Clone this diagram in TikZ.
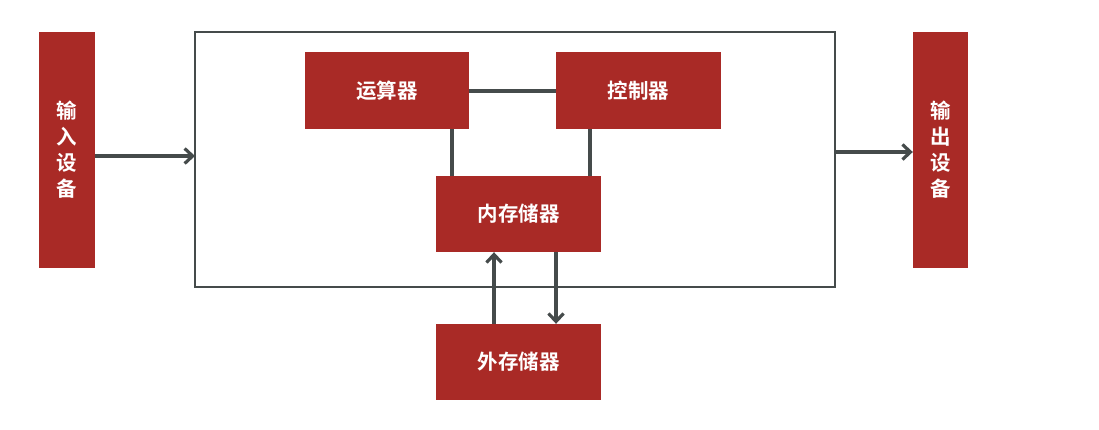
\documentclass[tikz,border=0pt]{standalone}
\usepackage{fontspec}
\newfontfamily\cjk{Noto Sans CJK SC}[BoldFont={Noto Sans CJK SC Bold}]
\usetikzlibrary{arrows.meta}
\definecolor{boxred}{HTML}{A92A26}
\definecolor{linegray}{HTML}{454B4B}
\tikzset{
  redbox/.style={fill=boxred, draw=none, text=white, font=\cjk\bfseries\fontsize{20.5}{20.5}\selectfont, inner sep=0pt},
  conn/.style={draw=linegray, line width=3.2pt},
  arr/.style={conn, -{Straight Barb[length=8pt,width=15pt,line width=3.2pt]}}
}
\begin{document}
\begin{tikzpicture}[x=1pt,y=-1pt]
\useasboundingbox (0,0) rectangle (1099,429);
% outer box
\draw[linegray, line width=2.8pt] (195,32) rectangle (835,287);
\node[redbox, minimum width=56pt, minimum height=236pt, align=center] (in) at (67,150) {输\\[5.5pt]入\\[5.5pt]设\\[5.5pt]备};
\node[redbox, minimum width=55pt, minimum height=236pt, align=center] (out) at (940.5,150) {输\\[5.5pt]出\\[5.5pt]设\\[5.5pt]备};
\node[redbox, minimum width=164pt, minimum height=77pt] (alu) at (387,90.5) {运算器};
\node[redbox, minimum width=165pt, minimum height=77pt] (cu) at (638.5,90.5) {控制器};
\node[redbox, minimum width=165pt, minimum height=76pt] (mem) at (518.5,214) {内存储器};
\node[redbox, minimum width=165pt, minimum height=76pt] (ext) at (518.5,362) {外存储器};
\coordinate (boxL) at (195,156);
\coordinate (boxR) at (835,152);
\draw[conn] (alu.east |- 0,91) -- (cu.west |- 0,91);
\draw[conn] (452,129) -- (452,176);
\draw[conn] (590,129) -- (590,176);
\draw[arr] (in.east |- boxL) -- (boxL);
\draw[arr] (boxR) -- (out.west |- boxR);
\draw[arr] (ext.north -| 494,0) -- (mem.south -| 494,0);
\draw[arr] (mem.south -| 556,0) -- (ext.north -| 556,0);
\end{tikzpicture}
\end{document}
